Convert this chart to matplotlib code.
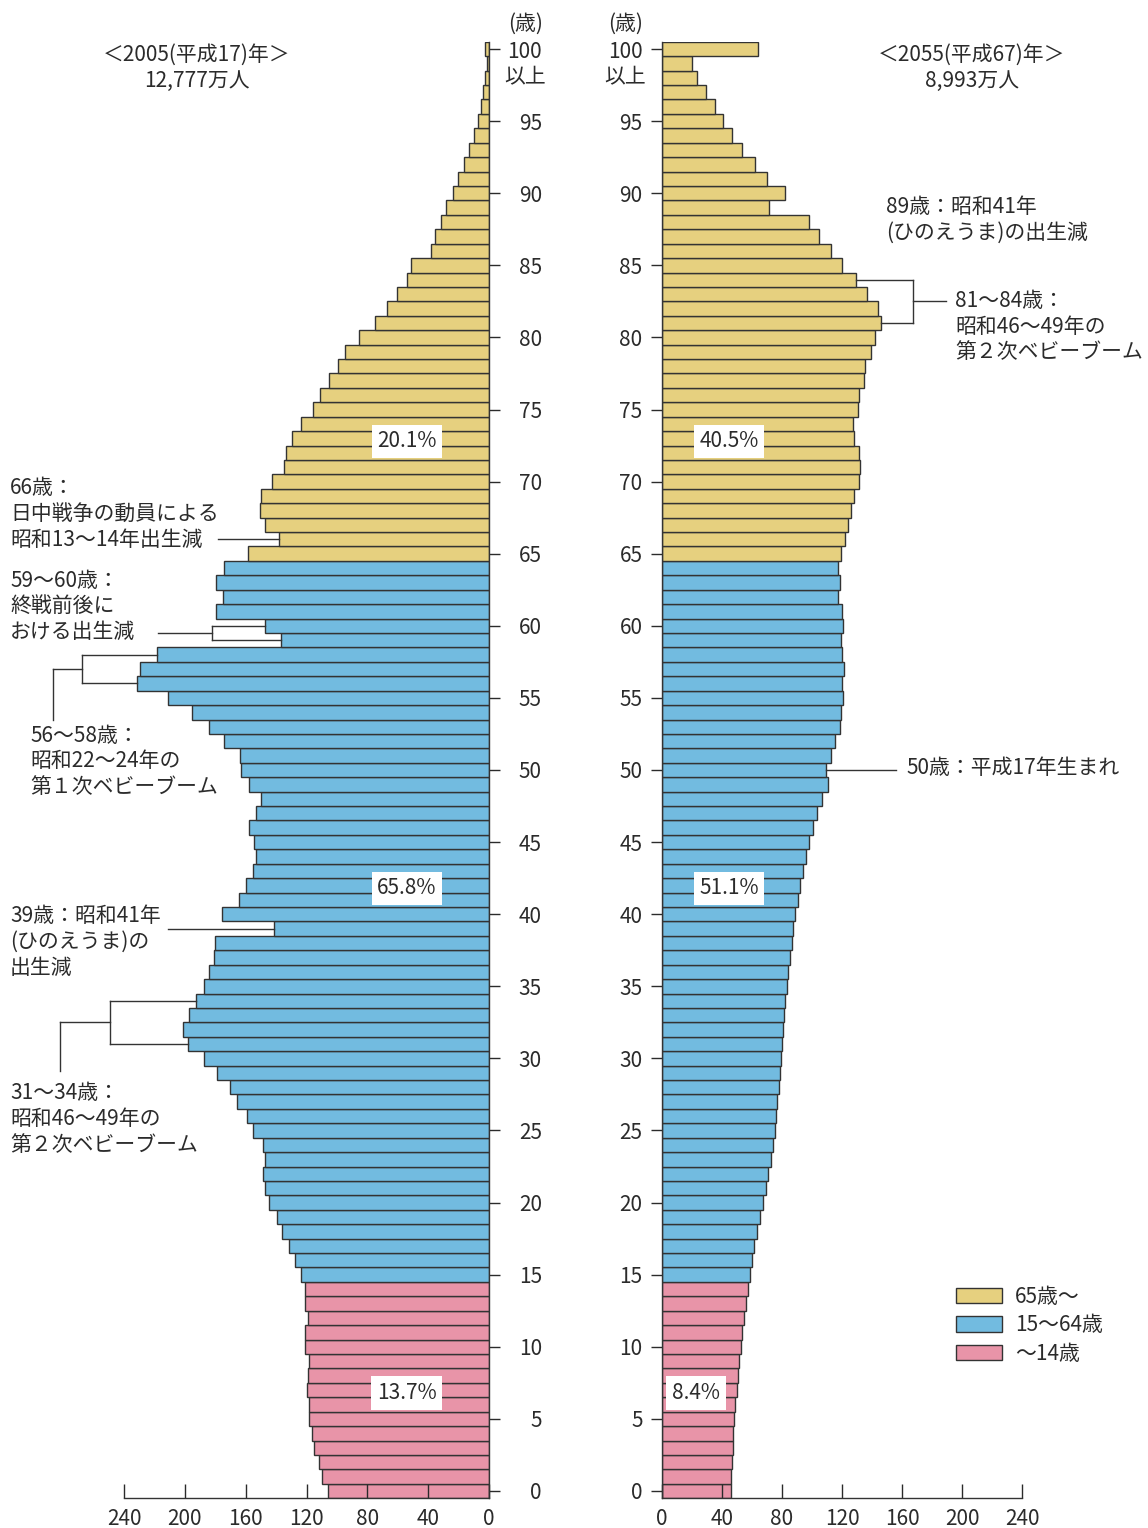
import numpy as np
import matplotlib.pyplot as plt
from matplotlib.patches import Patch

plt.rcParams['font.family'] = ['Noto Sans CJK JP', 'DejaVu Sans']

# data (万人), index = age 0..100 (100 = 100歳以上)
ages = list(range(101))
pop_2005 = [105.9, 109.5, 111.9, 115.2, 116.7, 118.5, 118.2, 119.6, 118.9, 118.5,
            120.7, 120.7, 118.9, 120.9, 120.9, 123.5, 127.5, 131.4, 135.8, 139.3,
            144.4, 147.3, 148.4, 147.0, 148.8, 155.0, 159.1, 165.7, 170.3, 179.1,
            187.5, 197.6, 201.0, 197.4, 192.7, 187.3, 184.2, 180.7, 180.2, 141.5,
            175.4, 164.4, 160.0, 155.2, 153.2, 154.5, 157.6, 153.4, 149.7, 157.6,
            163.3, 163.5, 174.3, 184.0, 195.6, 210.8, 231.2, 229.7, 218.0, 137.0,
            147.3, 179.8, 174.7, 179.6, 174.3, 158.5, 137.8, 147.0, 150.5, 150.0,
            143.0, 134.7, 133.8, 129.5, 123.5, 115.8, 111.2, 105.5, 99.3, 94.7,
            85.7, 74.7, 66.8, 60.4, 53.6, 51.4, 38.0, 35.6, 31.6, 28.4,
            24.0, 20.4, 16.5, 13.2, 9.9, 7.5, 5.5, 3.7, 2.6, 1.5,
            2.6]
pop_2055 = [45.8, 46.2, 46.7, 47.1, 47.6, 48.2, 48.9, 49.8, 50.7, 51.5,
            52.4, 53.5, 54.9, 56.0, 57.1, 58.4, 59.7, 61.3, 63.1, 65.0,
            67.0, 69.0, 70.8, 72.6, 74.1, 75.0, 75.9, 76.8, 77.7, 78.5,
            79.2, 80.1, 80.8, 81.4, 82.3, 83.2, 84.1, 85.2, 86.5, 87.6,
            88.9, 90.7, 92.3, 94.0, 96.0, 98.2, 100.7, 103.1, 106.4, 110.8,
            109.3, 112.8, 115.0, 118.4, 119.2, 120.8, 120.1, 121.0, 119.9, 119.0,
            120.6, 119.7, 117.3, 118.4, 117.5, 119.0, 121.7, 123.9, 126.3, 127.9,
            131.2, 131.9, 131.0, 127.9, 127.4, 130.5, 131.6, 134.5, 135.4, 139.2,
            142.3, 145.8, 144.2, 136.7, 129.0, 119.9, 112.4, 104.4, 98.0, 71.5,
            82.1, 70.1, 61.9, 53.5, 46.5, 40.7, 35.6, 29.2, 23.5, 19.9,
            63.7]

group_names = ['65歳～', '15～64歳', '～14歳']
share_2005 = ['20.1%', '65.8%', '13.7%']
share_2055 = ['40.5%', '51.1%', '8.4%']
share_ages = [73, 42, 7]
x_ticks = [0, 40, 80, 120, 160, 200, 240]
y_ticks = list(range(0, 101, 5))

c_old = '#E6D07F'
c_work = '#72BBE0'
c_young = '#E894A8'
edge = '#333333'
txt = '#2b2b2b'

def bar_colors(ages):
    return [c_old if a >= 65 else c_work if a >= 15 else c_young for a in ages]

W, H = 1148, 1528
fig = plt.figure(figsize=(W / 100, H / 100), dpi=100)

def fx(px):
    return px / W

def fy(py):
    return 1 - py / H

top, bot = 41.8, 1498.2
ax1 = fig.add_axes([fx(124), fy(bot), (489 - 124) / W, (bot - top) / H])
ax2 = fig.add_axes([fx(662), fy(bot), (1022 - 662) / W, (bot - top) / H])

for ax, pop in [(ax1, pop_2005), (ax2, pop_2055)]:
    ax.barh(ages, pop, height=1.0, color=bar_colors(ages), edgecolor=edge, linewidth=1.0)
    ax.set_ylim(-0.5, 100.5)
    ax.set_xticks(x_ticks)
    ax.set_yticks(y_ticks)
    ax.tick_params(axis='x', direction='in', length=10, width=1, pad=7,
                   labelsize=15, colors=txt)
    for s in ax.spines.values():
        s.set_color(edge)
        s.set_linewidth(1)
    ax.spines['top'].set_visible(False)

# left pyramid
ax1.set_xlim(240, 0)
ax1.spines['left'].set_visible(False)
ax1.yaxis.tick_right()
ax1.tick_params(axis='y', direction='out', length=8, width=1, pad=30,
                labelsize=15, colors=txt)
for lbl in ax1.get_yticklabels():
    lbl.set_horizontalalignment('right')

# right pyramid
ax2.set_xlim(0, 240)
ax2.spines['right'].set_visible(False)
ax2.tick_params(axis='y', direction='out', length=8, width=1, pad=6,
                labelsize=15, colors=txt)

# share labels
for i, a in enumerate(share_ages):
    ax1.text(54, a - 0.2, share_2005[i], ha='center', va='center', fontsize=15, color=txt,
             bbox=dict(facecolor='white', edgecolor='none', pad=4))
xs2 = [44.7, 44.7, 22.7]
for i, a in enumerate(share_ages):
    ax2.text(xs2[i], a - 0.2, share_2055[i], ha='center', va='center', fontsize=15, color=txt,
             bbox=dict(facecolor='white', edgecolor='none', pad=4))

# annotation lines (data coords)
lk = dict(color=edge, lw=1, clip_on=False)
# 66
ax1.plot([178, pop_2005[66]], [66, 66], **lk)
# 59-60
ax1.plot([217.6, 182], [59.5, 59.5], **lk)
ax1.plot([182, 182], [59, 60], **lk)
ax1.plot([182, pop_2005[60]], [60, 60], **lk)
ax1.plot([182, pop_2005[59]], [59, 59], **lk)
# 56-58
ax1.plot([267.6, 267.6], [56, 58], **lk)
ax1.plot([267.6, pop_2005[58]], [58, 58], **lk)
ax1.plot([267.6, pop_2005[56]], [56, 56], **lk)
ax1.plot([286.7, 267.6], [57, 57], **lk)
ax1.plot([286.7, 286.7], [57, 53.5], **lk)
# 39
ax1.plot([211, pop_2005[39]], [39, 39], **lk)
# 31-34
ax1.plot([249.2, 249.2], [31, 34], **lk)
ax1.plot([249.2, pop_2005[34]], [34, 34], **lk)
ax1.plot([249.2, pop_2005[31]], [31, 31], **lk)
ax1.plot([282, 249.2], [32.5, 32.5], **lk)
ax1.plot([282, 282], [32.5, 29.1], **lk)
# right: 81-84
ax2.plot([pop_2055[84], 167.3], [84, 84], **lk)
ax2.plot([pop_2055[81], 167.3], [81, 81], **lk)
ax2.plot([167.3, 167.3], [81, 84], **lk)
ax2.plot([167.3, 189.3], [82.5, 82.5], **lk)
# right: 50
ax2.plot([pop_2055[50], 156], [50, 50], **lk)

# texts
def put(x, y, s, ha='left'):
    fig.text(fx(x), fy(y + 2), s, ha=ha, va='center', fontsize=15, color=txt)

put(197, 53, '＜2005(平成17)年＞', 'center')
put(197, 79, '12,777万人', 'center')
put(972, 53, '＜2055(平成67)年＞', 'center')
put(972, 79, '8,993万人', 'center')
put(526, 22, '(歳)', 'center')
put(626, 22, '(歳)', 'center')
put(525, 75, '以上', 'center')
put(625, 75, '以上', 'center')

notes = [
    (10, 486, '66歳：'), (10, 512, '日中戦争の動員による'), (10, 538, '昭和13～14年出生減'),
    (10, 579, '59～60歳：'), (10, 604, '終戦前後に'), (10, 630, 'おける出生減'),
    (30, 734, '56～58歳：'), (30, 759, '昭和22～24年の'), (30, 785, '第１次ベビーブーム'),
    (10, 914, '39歳：昭和41年'), (10, 940, '(ひのえうま)の'), (10, 966, '出生減'),
    (10, 1091, '31～34歳：'), (10, 1117, '昭和46～49年の'), (10, 1143, '第２次ベビーブーム'),
    (886, 205, '89歳：昭和41年'), (886, 231, '(ひのえうま)の出生減'),
    (955, 299, '81～84歳：'), (955, 325, '昭和46～49年の'), (955, 350, '第２次ベビーブーム'),
    (906, 766, '50歳：平成17年生まれ'),
]
for x, y, s in notes:
    put(x, y, s)

# legend
handles = [Patch(facecolor=c, edgecolor=edge, linewidth=1) for c in [c_old, c_work, c_young]]
leg = fig.legend(handles, group_names, loc='upper left', bbox_to_anchor=(fx(956), fy(1286)),
                 frameon=False, fontsize=15, handlelength=2.2, handleheight=0.75,
                 handletextpad=0.65, labelspacing=0.3, borderpad=0, borderaxespad=0)
for t in leg.get_texts():
    t.set_color(txt)

fig.savefig('out.png', dpi=100)
